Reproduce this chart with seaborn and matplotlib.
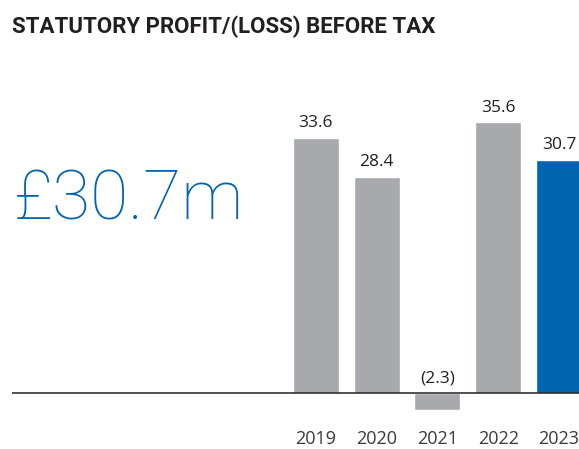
import matplotlib
matplotlib.use("Agg")
import matplotlib.pyplot as plt
import seaborn as sns
import pandas as pd

# Données du graphique
annees = ["2019", "2020", "2021", "2022", "2023"]
valeurs = [33.6, 28.4, -2.3, 35.6, 30.7]
etiquettes = ["33.6", "28.4", "(2.3)", "35.6", "30.7"]
couleurs = ["#a7a9ac", "#a7a9ac", "#a7a9ac", "#a7a9ac", "#0064b1"]

df = pd.DataFrame({"Année": annees, "Valeur": valeurs})

sns.set_theme(style="white")
plt.rcParams["font.family"] = ["Open Sans", "DejaVu Sans"]

fig = plt.figure(figsize=(5.79, 4.49), dpi=100)
ax = fig.add_axes([12 / 579, 29 / 449, 567 / 579, 360 / 449])

sns.barplot(data=df, x="Année", y="Valeur", hue="Année",
            palette=couleurs, saturation=1, width=0.757, legend=False, ax=ax)

ax.set_xlim(-5.0, 4.33)
ax.set_ylim(-3.55, 43.8)
ax.axhline(0, color="#231f20", linewidth=1.1)

for s in ax.spines.values():
    s.set_visible(False)
ax.set_yticks([])
ax.set_xlabel("")
ax.set_ylabel("")
ax.tick_params(axis="x", length=0, pad=7, labelsize=13, labelcolor="#3a3a3a")

# Etiquettes de valeurs
for i, (v, t) in enumerate(zip(valeurs, etiquettes)):
    ax.text(i, max(v, 0) + 0.9, t, ha="center", va="bottom",
            fontsize=12.5, color="#231f20")

# Titre
fig.text(12 / 579, 1 - 33 / 449, "STATUTORY PROFIT/(LOSS) BEFORE TAX",
         fontsize=16, fontweight="bold", color="#231f20",
         family=["Roboto", "DejaVu Sans"])

# Chiffre clé
fig.text(14 / 579, 1 - 220 / 449, "£30.7m", fontsize=50, fontweight="light",
         color="#0064b1", family=["Roboto", "DejaVu Sans"])

fig.savefig("out.png", dpi=100)
